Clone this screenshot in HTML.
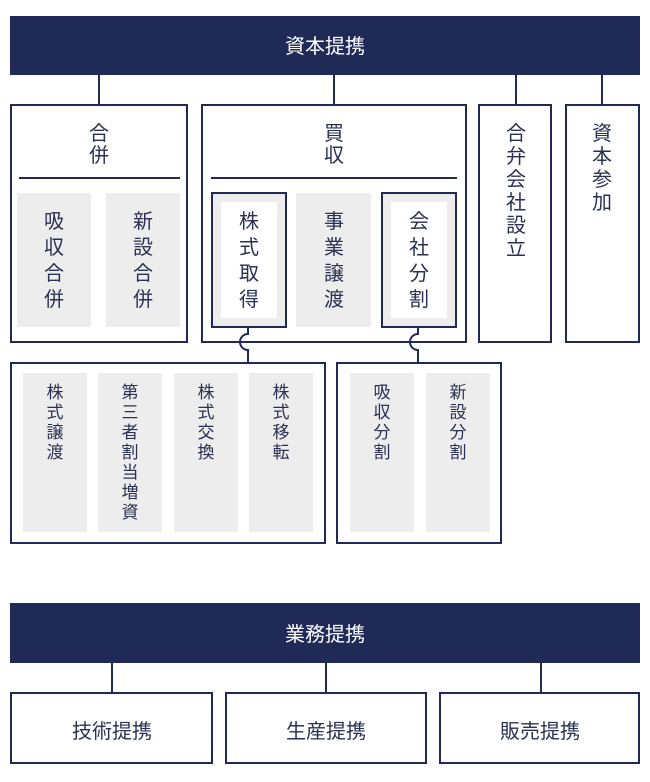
<!DOCTYPE html>
<html><head><meta charset="utf-8"><style>
html,body{margin:0;padding:0;background:#fff;}
svg{display:block;font-family:"Liberation Sans","Noto Sans CJK JP",sans-serif;}
</style></head><body>
<svg width="650" height="782" viewBox="0 0 650 782" xmlns="http://www.w3.org/2000/svg">
<g fill="none" stroke="#1f2a57" stroke-width="2">
<line x1="99" y1="75" x2="99" y2="105"/>
<line x1="334" y1="75" x2="334" y2="105"/>
<line x1="516" y1="75" x2="516" y2="105"/>
<line x1="602" y1="75" x2="602" y2="105"/>
<rect x="11" y="105" width="176" height="237"/>
<rect x="202" y="105" width="264" height="237"/>
<rect x="479" y="105" width="72" height="237"/>
<rect x="566" y="105" width="73" height="237"/>
<line x1="19" y1="178" x2="180" y2="178"/>
<line x1="211" y1="178" x2="457" y2="178"/>
<rect x="11" y="363" width="314" height="180"/>
<rect x="337" y="363" width="164" height="180"/>
<line x1="112" y1="663" x2="112" y2="693"/>
<line x1="326" y1="663" x2="326" y2="693"/>
<line x1="541" y1="663" x2="541" y2="693"/>
<rect x="11" y="693" width="201" height="70"/>
<rect x="226" y="693" width="200" height="70"/>
<rect x="440" y="693" width="199" height="70"/>
</g>
<rect x="10" y="16" width="630" height="59" fill="#1f2a57"/>
<rect x="10" y="603" width="630" height="60" fill="#1f2a57"/>
<g fill="#ededed">
<rect x="17" y="193" width="74" height="134"/>
<rect x="106" y="193" width="74" height="134"/>
<rect x="212" y="193" width="74" height="134"/>
<rect x="296" y="193" width="75" height="134"/>
<rect x="382" y="193" width="74" height="134"/>
<rect x="23" y="373" width="64" height="159"/>
<rect x="98" y="373" width="64" height="159"/>
<rect x="174" y="373" width="64" height="159"/>
<rect x="249" y="373" width="64" height="159"/>
<rect x="350" y="373" width="64" height="159"/>
<rect x="426" y="373" width="64" height="159"/>
</g>
<rect x="221" y="202" width="56" height="116" fill="#fff"/>
<rect x="391" y="202" width="56" height="116" fill="#fff"/>
<g fill="none" stroke="#1f2a57" stroke-width="2">
<rect x="212" y="193" width="74" height="134"/>
<rect x="382" y="193" width="74" height="134"/>
<path d="M248 327 V334 A8 8 0 0 0 248 350 V363"/>
<path d="M418 327 V334 A8 8 0 0 0 418 350 V363"/>
</g>
<g fill="#fff" font-size="20" text-anchor="middle">
<text x="325" y="53">資本提携</text>
<text x="325" y="641">業務提携</text>
</g>
<g fill="#2a3152" font-size="20" text-anchor="middle">
<text x="112" y="738">技術提携</text>
<text x="326" y="738">生産提携</text>
<text x="540" y="738">販売提携</text>
<text x="99" y="140">合<tspan x="99" dy="22">併</tspan></text>
<text x="334" y="140">買<tspan x="334" dy="22">収</tspan></text>
<text x="516" y="140">合<tspan x="516" dy="23">弁</tspan><tspan x="516" dy="23">会</tspan><tspan x="516" dy="23">社</tspan><tspan x="516" dy="23">設</tspan><tspan x="516" dy="23">立</tspan></text>
<text x="602" y="140">資<tspan x="602" dy="23">本</tspan><tspan x="602" dy="23">参</tspan><tspan x="602" dy="23">加</tspan></text>
<text x="54" y="228">吸<tspan x="54" dy="26">収</tspan><tspan x="54" dy="26">合</tspan><tspan x="54" dy="26">併</tspan></text>
<text x="143" y="228">新<tspan x="143" dy="26">設</tspan><tspan x="143" dy="26">合</tspan><tspan x="143" dy="26">併</tspan></text>
<text x="249" y="228">株<tspan x="249" dy="26">式</tspan><tspan x="249" dy="26">取</tspan><tspan x="249" dy="26">得</tspan></text>
<text x="334" y="228">事<tspan x="334" dy="26">業</tspan><tspan x="334" dy="26">譲</tspan><tspan x="334" dy="26">渡</tspan></text>
<text x="419" y="228">会<tspan x="419" dy="26">社</tspan><tspan x="419" dy="26">分</tspan><tspan x="419" dy="26">割</tspan></text>
</g>
<g fill="#2a3152" font-size="17" text-anchor="middle">
<text x="55" y="398">株<tspan x="55" dy="20">式</tspan><tspan x="55" dy="20">譲</tspan><tspan x="55" dy="20">渡</tspan></text>
<text x="130" y="398">第<tspan x="130" dy="20">三</tspan><tspan x="130" dy="20">者</tspan><tspan x="130" dy="20">割</tspan><tspan x="130" dy="20">当</tspan><tspan x="130" dy="20">増</tspan><tspan x="130" dy="20">資</tspan></text>
<text x="206" y="398">株<tspan x="206" dy="20">式</tspan><tspan x="206" dy="20">交</tspan><tspan x="206" dy="20">換</tspan></text>
<text x="281" y="398">株<tspan x="281" dy="20">式</tspan><tspan x="281" dy="20">移</tspan><tspan x="281" dy="20">転</tspan></text>
<text x="382" y="398">吸<tspan x="382" dy="20">収</tspan><tspan x="382" dy="20">分</tspan><tspan x="382" dy="20">割</tspan></text>
<text x="458" y="398">新<tspan x="458" dy="20">設</tspan><tspan x="458" dy="20">分</tspan><tspan x="458" dy="20">割</tspan></text>
</g>
</svg>
</body></html>
